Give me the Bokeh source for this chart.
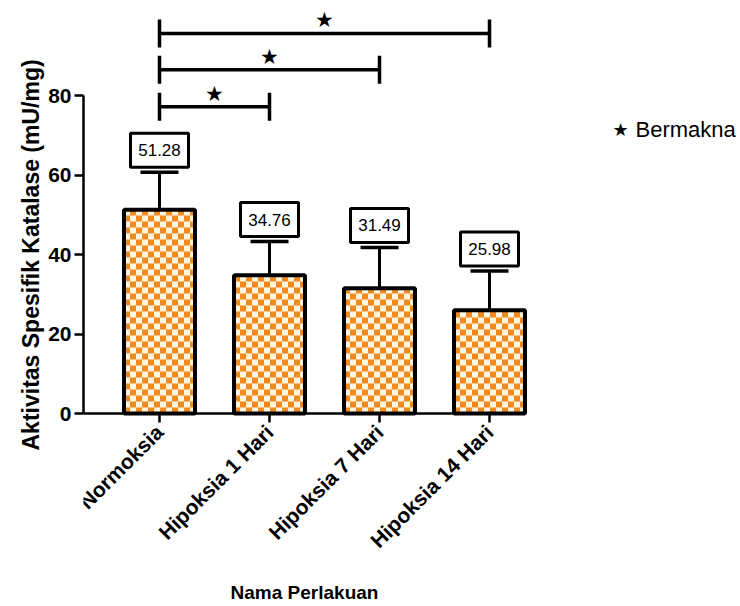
import math
from bokeh.plotting import figure
from bokeh.models import Range1d, FixedTicker, Title
from bokeh.embed import file_html
from bokeh.resources import INLINE
from bokeh.core.properties import value

# ---- data ----
groups = ["Normoksia", "Hipoksia 1 Hari", "Hipoksia 7 Hari", "Hipoksia 14 Hari"]
means = [51.28, 34.76, 31.49, 25.98]
sd = [9.4, 8.5, 10.3, 9.9]
sig_pairs = [(0, 1), (0, 2), (0, 3)]
sig_levels = [77.2, 86.5, 95.6]
y_ticks = [0, 20, 40, 60, 80]
legend_label = "Bermakna"
x_title = "Nama Perlakuan"
y_title = "Aktivitas Spesifik Katalase (mU/mg)"

FONT = "Liberation Sans"
ORANGE = "#F28A1E"
CREAM = "#FFF6E2"

# ---- geometry: the frame fills the canvas right of the y axis ----
W, H = 740, 606
LEFT = 83
AXIS_Y = 413        # pixel row of the value-zero baseline
frame_w = W - LEFT
px_cat = 110.0      # pixels per category
px_unit = 3.975     # pixels per mU/mg
x0 = -76.0 / px_cat
x_axis_end = 3 + 36.0 / px_cat

p = figure(width=W, height=H, output_backend="svg", toolbar_location=None,
           x_range=Range1d(x0, x0 + frame_w / px_cat),
           y_range=Range1d(-(H - AXIS_Y) / px_unit, AXIS_Y / px_unit),
           min_border_left=LEFT, min_border_right=0, min_border_top=0,
           min_border_bottom=0)
p.outline_line_color = None
p.xgrid.visible = False
p.ygrid.visible = False
p.background_fill_color = "white"
p.border_fill_color = "white"

xs = list(range(len(groups)))
bar_w = 0.645

# bar background
p.vbar(x=xs, top=means, width=bar_w, fill_color=CREAM, line_color=None)

# checkerboard fill
cw = 6.0 / px_cat
ch = 6.0 / px_unit
ql, qr, qb, qt = [], [], [], []
for i, m in enumerate(means):
    left = i - bar_w / 2
    right = i + bar_w / 2
    nx = int(math.ceil(bar_w / cw))
    ny = int(math.ceil(m / ch))
    for r in range(ny):
        for c in range(nx):
            if (r + c) % 2 == 1:
                continue
            l = left + c * cw
            b = r * ch
            ql.append(l)
            qr.append(min(l + cw, right))
            qb.append(b)
            qt.append(min(b + ch, m))
p.quad(left=ql, right=qr, bottom=qb, top=qt, fill_color=ORANGE, line_color=None)

# bar outlines
p.vbar(x=xs, top=means, width=bar_w, fill_color=None, line_color="black",
       line_width=4)

# error bars (upper only)
tops = [m + s for m, s in zip(means, sd)]
p.segment(x0=xs, y0=means, x1=xs, y1=tops, line_color="black", line_width=3)
p.scatter(x=xs, y=tops, marker="dash", size=38, line_color="black",
          line_width=3.5)

# value boxes
box_y = [t + 22.0 / px_unit for t in tops]
p.rect(x=xs, y=box_y, width=58, height=34, width_units="screen",
       height_units="screen", fill_color="white", line_color="black",
       line_width=3)
p.text(x=xs, y=box_y, text=[f"{m:.2f}" for m in means], text_align="center",
       text_baseline="middle", text_font=value(FONT), text_font_size="17px",
       text_color="black")

# significance brackets
tick_h = 14.0 / px_unit
for (a, b), lvl in zip(sig_pairs, sig_levels):
    p.segment(x0=[a, a, b], y0=[lvl, lvl - tick_h, lvl - tick_h],
              x1=[b, a, b], y1=[lvl, lvl + tick_h, lvl + tick_h],
              line_color="black", line_width=3.5)
    p.text(x=[(a + b) / 2], y=[lvl + 13.0 / px_unit], text=["\u2605"],
           text_align="center", text_baseline="middle",
           text_font=value("DejaVu Sans"), text_font_size="21px",
           text_color="black")

# legend
lx = x0 + (612 - LEFT) / px_cat
ly = (AXIS_Y - 129) / px_unit
p.text(x=[lx], y=[ly], text=["\u2605"], text_align="left",
       text_baseline="middle", text_font=value("DejaVu Sans"),
       text_font_size="18px", text_color="black")
p.text(x=[lx + 23.0 / px_cat], y=[ly], text=[legend_label], text_align="left",
       text_baseline="middle", text_font=value(FONT), text_font_size="22px",
       text_color="black")

# x-axis title, centred under the drawn x axis
p.text(x=[(x0 + x_axis_end) / 2], y=[-(592 - AXIS_Y) / px_unit],
       text=[x_title], text_align="center", text_baseline="middle",
       text_font=value(FONT), text_font_style="bold", text_font_size="19px",
       text_color="black")

# axes
ya = p.yaxis[0]
ya.ticker = FixedTicker(ticks=y_ticks)
ya.bounds = (0, 80)
ya.axis_line_width = 2.5
ya.major_tick_line_width = 2.5
ya.major_tick_out = 9
ya.major_tick_in = 0
ya.minor_tick_line_color = None
ya.major_label_text_font = FONT
ya.major_label_text_font_style = "bold"
ya.major_label_text_font_size = "21px"
ya.major_label_text_color = "black"
ya.major_label_standoff = 3

xa = p.xaxis[0]
xa.fixed_location = 0
xa.ticker = FixedTicker(ticks=xs)
xa.major_label_overrides = {i: g for i, g in enumerate(groups)}
xa.bounds = (x0, x_axis_end)
xa.axis_line_width = 2.5
xa.major_tick_line_width = 2.5
xa.major_tick_out = 9
xa.major_tick_in = 0
xa.minor_tick_line_color = None
xa.major_label_orientation = math.pi / 4
xa.major_label_text_font = FONT
xa.major_label_text_font_style = "bold"
xa.major_label_text_font_size = "21px"
xa.major_label_text_color = "black"
xa.major_label_standoff = 6

# y-axis title as a side-panel title so it can be offset along the axis
p.add_layout(Title(text=y_title, align="left", offset=H - 450, standoff=4,
                   text_font=FONT, text_font_style="bold",
                   text_font_size="23px", text_color="black"), "left")

open("out.html", "w").write(file_html(p, INLINE))
